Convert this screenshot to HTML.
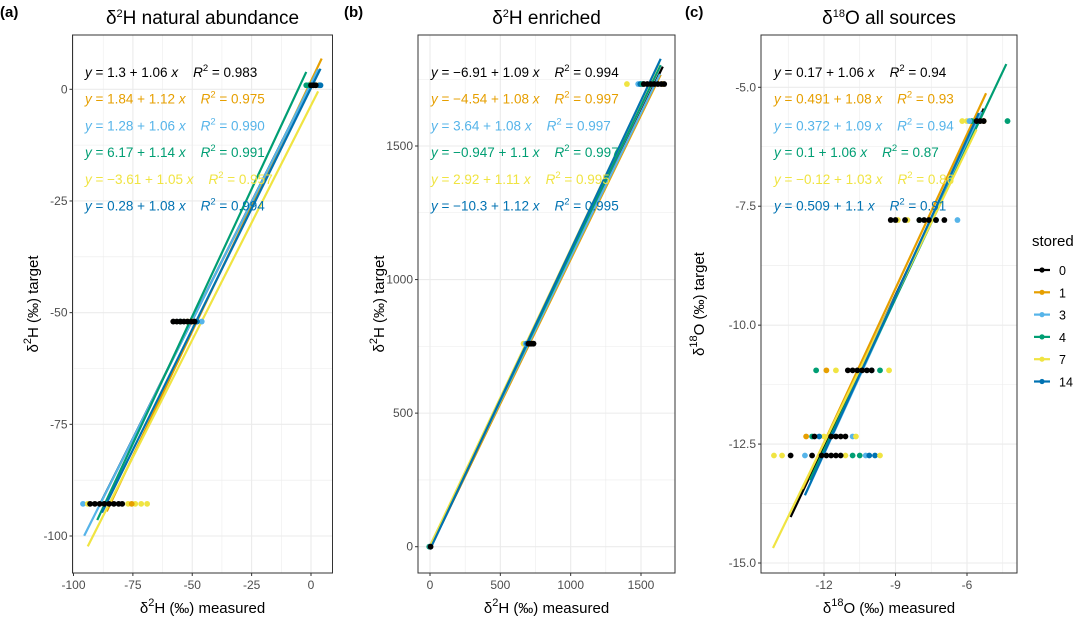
<!DOCTYPE html>
<html><head><meta charset="utf-8">
<style>
html,body{margin:0;padding:0;background:#fff;}
svg{display:block;font-family:"Liberation Sans",sans-serif;}
</style></head>
<body>
<svg id="chart" width="1084" height="622" viewBox="0 0 1084 622" xmlns="http://www.w3.org/2000/svg"></svg>
<script>
// ---- data ----
const seriesNames = ["0","1","3","4","7","14"];
const seriesColors = ["#000000","#E69F00","#56B4E9","#009E73","#F0E442","#0072B2"];
const drawOrder = [0,1,2,3,4,5];

// panel a
const aIntercept = [1.3,1.84,1.28,6.17,-3.61,0.28];
const aSlope = [1.06,1.12,1.06,1.14,1.05,1.08];
const aR2 = ["0.983","0.975","0.990","0.991","0.957","0.994"];
const aIntText = ["1.3","1.84","1.28","6.17","\u22123.61","0.28"];
const aXmin = [-89,-86,-95.5,-90,-94,-88];
const aXmax = [3,4.5,3,-2,3,4];
const aPoints = [
 [3,-2,0.9],[3,-1,0.9],[3,0,0.9],[2,1,0.9],[1,2,0.9],[4,3,0.9],[5,4,0.9],[5,3.5,0.9],[0,0,0.9],[0,1,0.9],[0,2,0.9],
 [2,-46,-52],[5,-48,-52],[3,-55,-52],[4,-52,-52],[1,-50,-52],[0,-58,-52],[0,-56.5,-52],[0,-55,-52],[0,-53.5,-52],[0,-52,-52],[0,-50.5,-52],[0,-49,-52],
 [2,-96,-92.8],[4,-94,-92.8],[4,-77,-92.8],[4,-74,-92.8],[4,-71.5,-92.8],[4,-69,-92.8],[1,-75.5,-92.8],[3,-87,-92.8],
 [0,-93,-92.8],[0,-91,-92.8],[0,-89,-92.8],[0,-87,-92.8],[0,-85,-92.8],[0,-83,-92.8],[0,-81,-92.8],[0,-79.5,-92.8]
];

// panel b
const bSlope = [1.09,1.08,1.08,1.1,1.11,1.12];
const bR2 = ["0.994","0.997","0.997","0.997","0.995","0.995"];
const bIntText = ["\u22126.91","\u22124.54","3.64","\u22120.947","2.92","\u221210.3"];
const bIntercept = [-6.91,-4.54,3.64,-0.947,2.92,-10.3];
const bXmin = [0,0,0,0,0,0];
const bXmax = [1655,1640,1635,1640,1630,1640];
const bPoints = [
 [3,-5,0],[2,2,0],[0,4,0],
 [4,665,760],[2,680,760],[5,690,760],[0,700,760],[0,712,760],[0,724,760],[0,736,760],
 [4,1400,1732],[2,1480,1732],[5,1495,1732],[3,1510,1732],[1,1655,1732],
 [0,1520,1732],[0,1545,1732],[0,1570,1732],[0,1595,1732],[0,1620,1732],[0,1645,1732],[0,1665,1732]
];

// panel c
const cIntercept = [0.17,0.491,0.372,0.1,-0.12,0.509];
const cSlope = [1.06,1.08,1.09,1.06,1.03,1.1];
const cR2 = ["0.94","0.93","0.94","0.87","0.86","0.91"];
const cIntText = ["0.17","0.491","0.372","0.1","\u22120.12","0.509"];
const cXmin = [-13.4,-12.9,-12.8,-12.6,-14.14,-12.8];
const cXmax = [-5.3,-5.2,-5.4,-4.35,-5.6,-5.5];
const cPoints = [
 [4,-6.2,-5.71],[4,-6.0,-5.71],[3,-5.8,-5.71],[2,-5.9,-5.71],[1,-5.3,-5.71],[3,-4.3,-5.71],[0,-5.6,-5.71],[0,-5.45,-5.71],[0,-5.3,-5.71],
 [4,-8.9,-7.79],[4,-8.5,-7.79],[3,-8.0,-7.79],[5,-7.3,-7.79],[2,-6.4,-7.79],
 [0,-9.2,-7.79],[0,-9.0,-7.79],[0,-8.6,-7.79],[0,-8.0,-7.79],[0,-7.8,-7.79],[0,-7.6,-7.79],[0,-7.3,-7.79],[0,-6.95,-7.79],
 [3,-12.33,-10.95],[1,-11.9,-10.95],[4,-11.5,-10.95],[3,-9.65,-10.95],[4,-9.27,-10.95],[5,-10.0,-10.95],
 [0,-11.0,-10.95],[0,-10.8,-10.95],[0,-10.6,-10.95],[0,-10.4,-10.95],[0,-10.2,-10.95],[0,-10.0,-10.95],
 [1,-12.75,-12.34],[3,-12.5,-12.34],[4,-12.0,-12.34],[2,-10.8,-12.34],[4,-10.66,-12.34],[5,-12.2,-12.34],
 [0,-11.7,-12.34],[0,-11.5,-12.34],[0,-11.3,-12.34],[0,-11.1,-12.34],[0,-12.4,-12.34],
 [4,-14.1,-12.74],[4,-13.76,-12.74],[0,-13.4,-12.74],[2,-12.8,-12.74],[0,-12.5,-12.74],
 [0,-12.1,-12.74],[0,-11.9,-12.74],[0,-11.7,-12.74],[0,-11.5,-12.74],[0,-11.3,-12.74],
 [4,-11.1,-12.74],[3,-10.8,-12.74],[3,-10.5,-12.74],[2,-10.25,-12.74],[5,-10.1,-12.74],[5,-9.86,-12.74],[4,-9.65,-12.74]
];

const aXTicks = [-100,-75,-50,-25,0];
const aXTickLabels = ["-100","-75","-50","-25","0"];
const aYTicks = [-100,-75,-50,-25,0];
const aYTickLabels = ["-100","-75","-50","-25","0"];
const bXTicks = [0,500,1000,1500];
const bXTickLabels = ["0","500","1000","1500"];
const bYTicks = [0,500,1000,1500];
const bYTickLabels = ["0","500","1000","1500"];
const cXTicks = [-12,-9,-6];
const cXTickLabels = ["-12","-9","-6"];
const cYTicks = [-15,-12.5,-10,-7.5,-5];
const cYTickLabels = ["-15.0","-12.5","-10.0","-7.5","-5.0"];

// ---- drawing ----
const NS = "http://www.w3.org/2000/svg";
const svg = document.getElementById("chart");
function mk(tag, attrs, parent){
  const e = document.createElementNS(NS, tag);
  for (const k in attrs) e.setAttribute(k, attrs[k]);
  (parent||svg).appendChild(e);
  return e;
}
const NB = "\u00a0";

function panel(cfg){
  const g = mk("g",{});
  
  
  const sx = v => cfg.px0 + (v - cfg.x0) * (cfg.px1 - cfg.px0) / (cfg.x1 - cfg.x0);
  const sy = v => cfg.py0 + (v - cfg.y0) * (cfg.py1 - cfg.py0) / (cfg.y1 - cfg.y0);
  const L = cfg.left, R = cfg.right, T = 35, B = 573;
  const xs = cfg.xTicks, ys = cfg.yTicks;
  const dx = xs[1]-xs[0], dy = ys[1]-ys[0];
  for (let v = xs[0]-dx*2; v <= xs[xs.length-1]+dx*2; v += dx/2){
    const p = sx(v); if (p<L||p>R) continue;
    mk("line",{x1:p,x2:p,y1:T,y2:B,stroke:"#ebebeb","stroke-width":xs.some(t=>Math.abs(t-v)<1e-9)?1.1:0.55},g);
  }
  for (let v = ys[0]-dy*2; v <= ys[ys.length-1]+dy*2; v += dy/2){
    const p = sy(v); if (p<T||p>B) continue;
    mk("line",{x1:L,x2:R,y1:p,y2:p,stroke:"#ebebeb","stroke-width":ys.some(t=>Math.abs(t-v)<1e-9)?1.1:0.55},g);
  }
  for (const i of drawOrder){
    const ln = mk("line",{x1:sx(cfg.xmin[i]),y1:sy(cfg.inter[i]+cfg.slope[i]*cfg.xmin[i]),
      x2:sx(cfg.xmax[i]),y2:sy(cfg.inter[i]+cfg.slope[i]*cfg.xmax[i]),stroke:seriesColors[i],"stroke-width":2.2},g);
    
    
  }
  const pts = cfg.points.slice().sort((a,b)=>(a[0]===0)-(b[0]===0));
  for (const p of pts){
    const c = mk("circle",{cx:sx(p[1]),cy:sy(p[2]),r:2.9,fill:seriesColors[p[0]]},g);
    
    
  }
  mk("rect",{x:L,y:T,width:R-L,height:B-T,fill:"none",stroke:"#333","stroke-width":1},g);
  xs.forEach((v,k)=>{
    const p = sx(v);
    mk("line",{x1:p,x2:p,y1:B,y2:B+3,stroke:"#333"},g);
    const t = mk("text",{x:p,y:B+16,"text-anchor":"middle","font-size":12,fill:"#4d4d4d"},g);
    t.textContent = cfg.xLabels[k];
    
    
  });
  ys.forEach((v,k)=>{
    const p = sy(v);
    mk("line",{x1:L-3,x2:L,y1:p,y2:p,stroke:"#333"},g);
    const t = mk("text",{x:L-5,y:p+4,"text-anchor":"end","font-size":12,fill:"#4d4d4d"},g);
    t.textContent = cfg.yLabels[k];
    
    
  });
  for (let i=0;i<6;i++){
    const t = mk("text",{x:cfg.eqX,y:77+i*26.7,"font-size":13.5,fill:seriesColors[i]},g);
    
    
    t.innerHTML = '<tspan font-style="italic">y</tspan>'+NB+'='+NB+cfg.intText[i]+NB+'+'+NB+cfg.slope[i]+NB+'<tspan font-style="italic">x</tspan>'+NB+NB+NB+NB+'<tspan font-style="italic">R</tspan><tspan font-size="9.5" dy="-6">2</tspan><tspan dy="6">'+NB+'='+NB+cfg.r2[i]+'</tspan>';
  }
  const cx = (L+R)/2;
  const tt = mk("text",{x:cx,y:24,"text-anchor":"middle","font-size":19,fill:"#000"},g);
  tt.innerHTML = cfg.title;
  
  
  const xt = mk("text",{x:cx,y:613,"text-anchor":"middle","font-size":15,fill:"#000"},g);
  xt.innerHTML = cfg.xTitle;
  
  
  const yx = cfg.yTitleX, yy = (T+B)/2;
  const yt = mk("text",{x:yx,y:yy,"text-anchor":"middle","font-size":15,fill:"#000",transform:"rotate(-90 "+yx+" "+yy+")"},g);
  yt.innerHTML = cfg.yTitle;
  
  
  const lab = mk("text",{x:cfg.labX,y:17,"font-size":15,"font-weight":"bold",fill:"#000"},g);
  lab.textContent = cfg.label;
  
  
}

const sup = s => '<tspan font-size="11" dy="-7">'+s+'</tspan><tspan dy="7">';
panel({name:"panel-a", left:72.5, right:332.5, x0:-100,x1:0,px0:73.5,px1:311, y0:0,y1:-100,py0:89.3,py1:536,
  xTicks:aXTicks,xLabels:aXTickLabels,yTicks:aYTicks,yLabels:aYTickLabels,
  inter:aIntercept,slope:aSlope,r2:aR2,intText:aIntText,xmin:aXmin,xmax:aXmax,points:aPoints,eqX:85,
  title:"δ"+sup("2")+"H natural abundance</tspan>", xTitle:"δ"+sup("2")+"H (‰) measured</tspan>",
  yTitle:"δ"+sup("2")+"H (‰) target</tspan>", yTitleX:38, label:"(a)", labX:0});
panel({name:"panel-b", left:418, right:675, x0:0,x1:1500,px0:430,px1:641, y0:0,y1:1500,py0:546.7,py1:146,
  xTicks:bXTicks,xLabels:bXTickLabels,yTicks:bYTicks,yLabels:bYTickLabels,
  inter:bIntercept,slope:bSlope,r2:bR2,intText:bIntText,xmin:bXmin,xmax:bXmax,points:bPoints,eqX:431,
  title:"δ"+sup("2")+"H enriched</tspan>", xTitle:"δ"+sup("2")+"H (‰) measured</tspan>",
  yTitle:"δ"+sup("2")+"H (‰) target</tspan>", yTitleX:384, label:"(b)", labX:344});
panel({name:"panel-c", left:761, right:1017, x0:-12,x1:-6,px0:824,px1:967, y0:-5,y1:-15,py0:87.3,py1:563,
  xTicks:cXTicks,xLabels:cXTickLabels,yTicks:cYTicks,yLabels:cYTickLabels,
  inter:cIntercept,slope:cSlope,r2:cR2,intText:cIntText,xmin:cXmin,xmax:cXmax,points:cPoints,eqX:774,
  title:"δ"+sup("18")+"O all sources</tspan>", xTitle:"δ"+sup("18")+"O (‰) measured</tspan>",
  yTitle:"δ"+sup("18")+"O (‰) target</tspan>", yTitleX:704, label:"(c)", labX:685});

const lg = mk("g",{});


const lt = mk("text",{x:1032,y:246,"font-size":15,fill:"#000"},lg);
lt.textContent = "stored";


seriesNames.forEach((n,i)=>{
  const y = 270 + i*22.3;
  const eg = mk("g",{},lg);
  
  
  mk("line",{x1:1034,x2:1050,y1:y,y2:y,stroke:seriesColors[i],"stroke-width":2.2},eg);
  mk("circle",{cx:1042,cy:y,r:2.6,fill:seriesColors[i]},eg);
  const t = mk("text",{x:1059,y:y+5,"font-size":12.5,fill:"#000"},eg);
  t.textContent = n;
});
</script>
</body></html>
